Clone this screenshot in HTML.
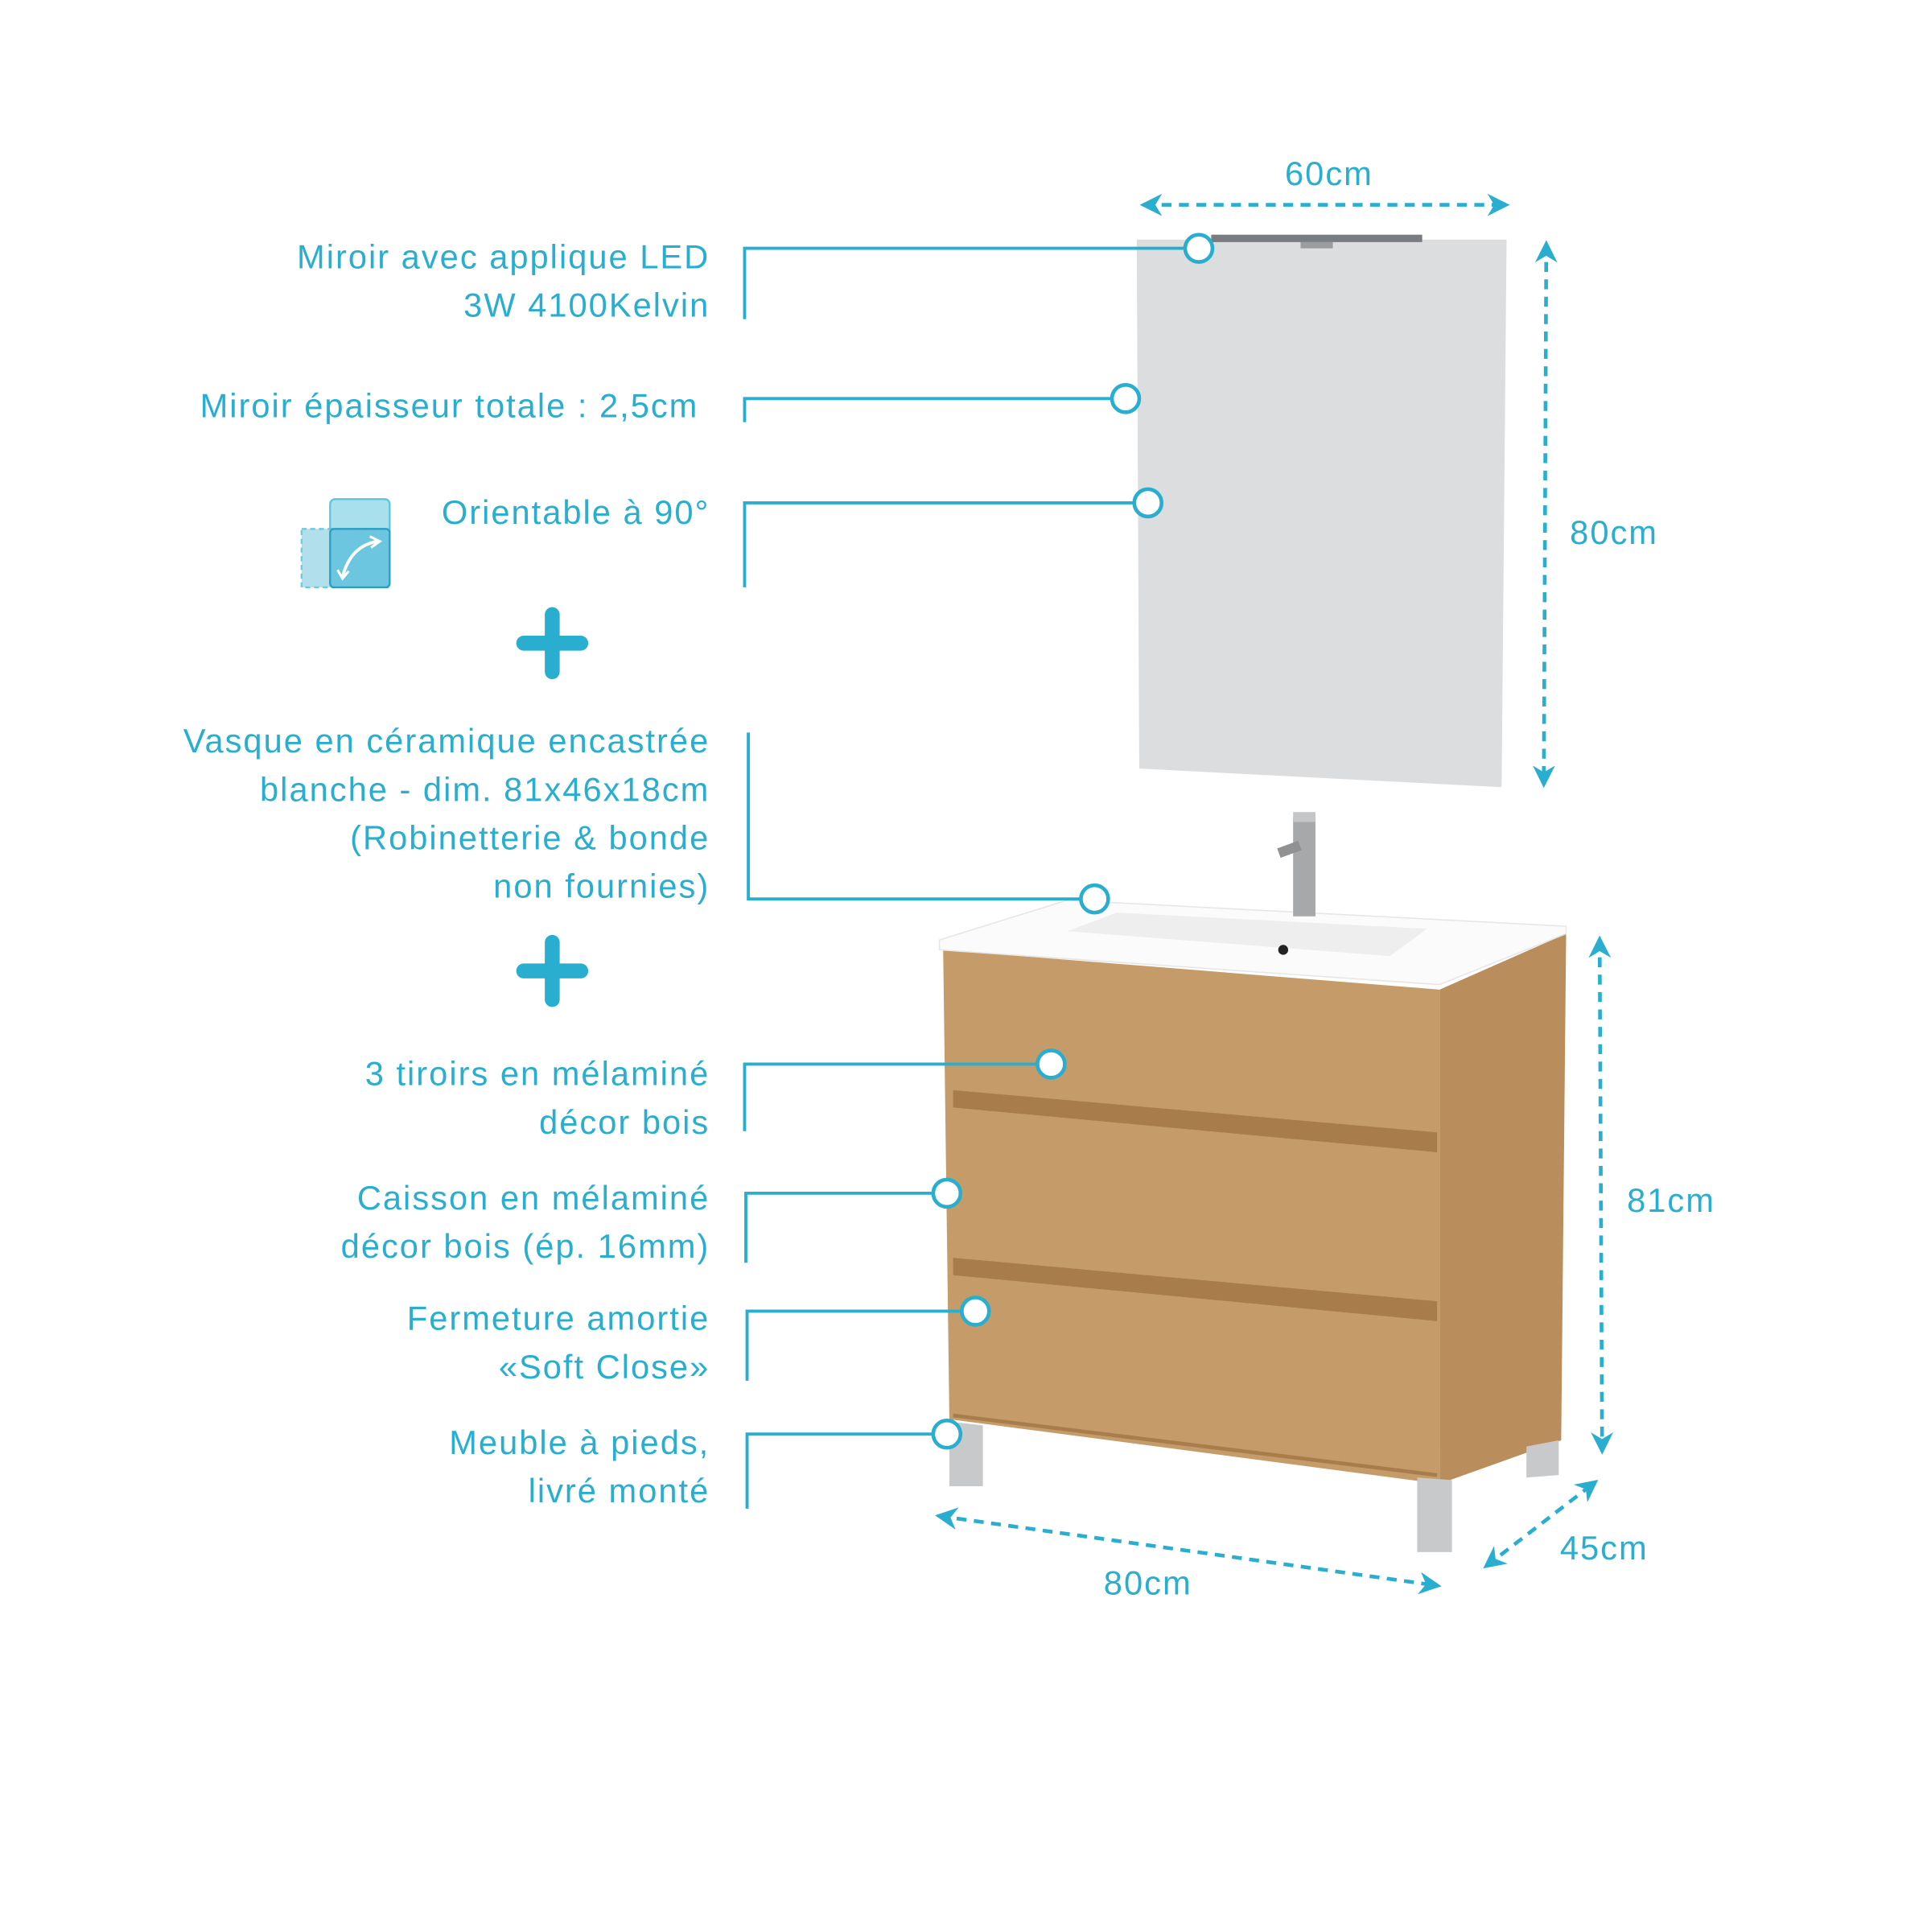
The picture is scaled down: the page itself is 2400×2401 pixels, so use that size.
<!DOCTYPE html>
<html><head><meta charset="utf-8"><style>
html,body{margin:0;padding:0;background:#fff;}
svg{display:block;}
text{font-family:"Liberation Sans",sans-serif;fill:#2aaed0;font-size:27px;letter-spacing:1.3px;}
</style></head><body>
<svg width="2400" height="2401" viewBox="0 0 1556 1556" preserveAspectRatio="none" xmlns="http://www.w3.org/2000/svg">
<defs>
<marker id="ah" viewBox="0 0 10 10" refX="8" refY="5" markerWidth="6" markerHeight="6" orient="auto-start-reverse"><path d="M0,0 L10,5 L0,10 L3,5z" fill="#2aaed0"/></marker>
</defs>
<polygon points="916,193 1214,193 1210,634 918,619" fill="#dcdddf"/>
<rect x="976" y="189" width="170" height="6" fill="#7a7d80"/>
<rect x="1048" y="195" width="26" height="5" fill="#9a9c9e"/>
<polygon points="1160,797 1262,752 1258,1160 1160,1195" fill="#b98e5c"/>
<polygon points="760,765 1160,797 1160,1195 765,1143" fill="#c59c69"/>
<polygon points="768,878 1158,912 1158,928 768,892" fill="#a97d4b"/>
<polygon points="768,1013 1158,1048 1158,1064 768,1027" fill="#a97d4b"/>
<line x1="768" y1="1140" x2="1158" y2="1188" stroke="#a97d4b" stroke-width="3"/>
<polygon points="765,1145 792,1148 792,1197 765,1197" fill="#c8c9cb"/>
<polygon points="1142,1190 1170,1192 1170,1250 1142,1250" fill="#c8c9cb"/>
<polygon points="1230,1165 1256,1160 1256,1188 1230,1190" fill="#c8c9cb"/>
<polygon points="757,757 860,725 1262,746 1262,752 1160,793 757,765" fill="#fbfbfb" stroke="#e6e6e6" stroke-width="1"/>
<polygon points="860,750 900,735 1150,748 1120,770" fill="#eeeeee"/>
<circle cx="1034" cy="765" r="4" fill="#222"/>
<rect x="1042" y="658" width="18" height="80" fill="#a6a8aa"/>
<rect x="1030" y="680" width="18" height="8" fill="#8f9193" transform="rotate(-20 1039 684)"/>
<rect x="1042" y="654" width="18" height="8" fill="#c4c6c8"/>
<g stroke="#2aaed0" stroke-width="3" stroke-dasharray="8,6" fill="none">
<line x1="922" y1="165" x2="1213" y2="165" marker-start="url(#ah)" marker-end="url(#ah)"/>
<line x1="1246" y1="197" x2="1244" y2="631" marker-start="url(#ah)" marker-end="url(#ah)"/>
<line x1="1289" y1="757" x2="1291" y2="1168" marker-start="url(#ah)" marker-end="url(#ah)"/>
<line x1="757" y1="1221" x2="1158" y2="1277" marker-start="url(#ah)" marker-end="url(#ah)"/>
<line x1="1198" y1="1261" x2="1285" y2="1194" marker-start="url(#ah)" marker-end="url(#ah)"/>
</g>
<text x="1071" y="149" text-anchor="middle">60cm</text>
<text x="1265" y="438">80cm</text>
<text x="1311" y="976">81cm</text>
<text x="925" y="1284" text-anchor="middle">80cm</text>
<text x="1257" y="1256">45cm</text>
<g stroke="#2aaed0" stroke-width="2.5" fill="none">
<polyline points="600,257 600,200 955,200"/>
<polyline points="600,340 600,321 896,321"/>
<polyline points="600,473 600,405 914,405"/>
<polyline points="603,590 603,724 871,724"/>
<polyline points="600,911 600,857 836,857"/>
<polyline points="601,1017 601,961 752,961"/>
<polyline points="602,1112 602,1056 775,1056"/>
<polyline points="602,1215 602,1155 752,1155"/>
</g>
<g stroke="#2aaed0" stroke-width="3" fill="#fff">
<circle cx="966" cy="200" r="11"/><circle cx="907" cy="321" r="11"/>
<circle cx="925" cy="405" r="11"/><circle cx="882" cy="724" r="11"/>
<circle cx="847" cy="857" r="11"/><circle cx="763" cy="961" r="11"/>
<circle cx="786" cy="1056" r="11"/><circle cx="763" cy="1155" r="11"/>
</g>
<g text-anchor="end">
<text x="572" y="216">Miroir avec applique LED</text>
<text x="572" y="255">3W 4100Kelvin</text>
<text x="563" y="336">Miroir épaisseur totale : 2,5cm</text>
<text x="572" y="422">Orientable à 90°</text>
<text x="572" y="606">Vasque en céramique encastrée</text>
<text x="572" y="645">blanche - dim. 81x46x18cm</text>
<text x="572" y="684">(Robinetterie &amp; bonde</text>
<text x="572" y="723">non fournies)</text>
<text x="572" y="874">3 tiroirs en mélaminé</text>
<text x="572" y="913">décor bois</text>
<text x="572" y="974">Caisson en mélaminé</text>
<text x="572" y="1013">décor bois (ép. 16mm)</text>
<text x="572" y="1071">Fermeture amortie</text>
<text x="572" y="1110">«Soft Close»</text>
<text x="572" y="1171">Meuble à pieds,</text>
<text x="572" y="1210">livré monté</text>
</g>
<g stroke="#2aaed0" stroke-width="12" stroke-linecap="round">
<line x1="422" y1="518" x2="468" y2="518"/><line x1="445" y1="495" x2="445" y2="541"/>
<line x1="422" y1="782" x2="468" y2="782"/><line x1="445" y1="759" x2="445" y2="805"/>
</g>
<rect x="266" y="402" width="48" height="71" rx="4" fill="#a9e0ee" stroke="#5bc4de" stroke-width="1.5"/>
<rect x="243" y="426" width="71" height="47" fill="#a9dcea" stroke="#5bc4de" stroke-width="1.5" stroke-dasharray="4,3" opacity="0.9"/>
<rect x="266" y="426" width="48" height="47" rx="3" fill="#6cc6e0" stroke="#2a9fc4" stroke-width="1.5"/>
<path d="M276,465 Q282,440 304,436" stroke="#fff" stroke-width="2.5" fill="none"/>
<path d="M298,432 L306,436 L299,441" stroke="#fff" stroke-width="2" fill="none"/>
<path d="M272,459 L276,466 L281,460" stroke="#fff" stroke-width="2" fill="none"/>
</svg>
</body></html>
